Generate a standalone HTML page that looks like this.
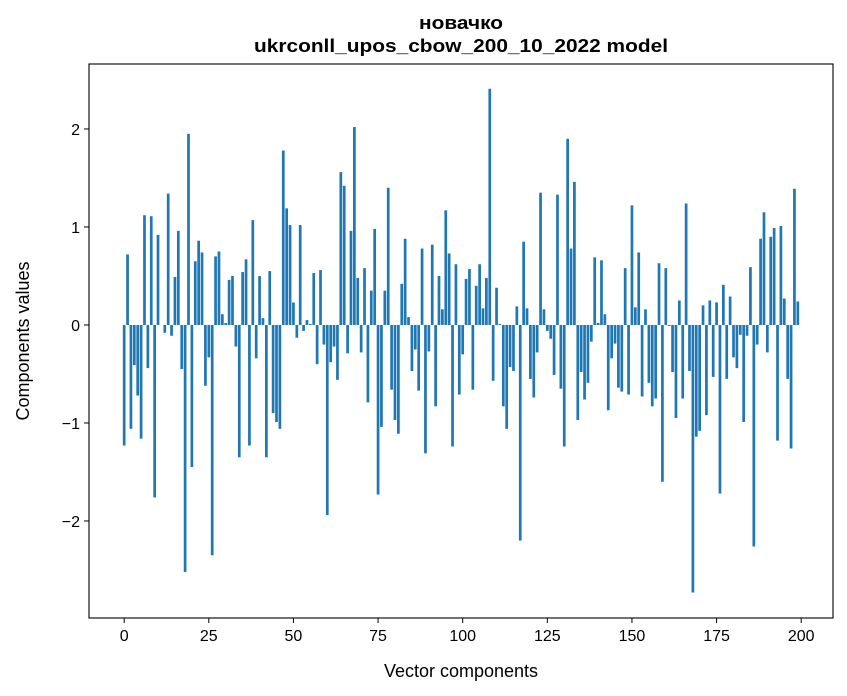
<!DOCTYPE html>
<html><head><meta charset="utf-8"><style>
html,body{margin:0;padding:0;background:#fff;}
svg{display:block;font-family:"Liberation Sans","DejaVu Sans",sans-serif;}
</style></head><body>
<svg id="chart" width="847" height="696" viewBox="0 0 847 696" xmlns="http://www.w3.org/2000/svg">
<rect x="0" y="0" width="847" height="696" fill="#fff"/>
<text x="461" y="29" text-anchor="middle" font-size="18" font-weight="bold" textLength="84" lengthAdjust="spacingAndGlyphs">новачко</text>
<text x="461" y="52" text-anchor="middle" font-size="18" font-weight="bold" textLength="414" lengthAdjust="spacingAndGlyphs">ukrconll_upos_cbow_200_10_2022 model</text>
<g id="bars"></g>
<g id="xticks"></g>
<g id="yticks"></g>
<rect x="89" y="64" width="744" height="554" fill="none" stroke="#000" stroke-width="1.1"/>
<text x="461" y="677" text-anchor="middle" font-size="18">Vector components</text>
<text transform="translate(29,341) rotate(-90)" text-anchor="middle" font-size="18">Components values</text>
</svg>
<script>
const values = [-1.23,0.72,-1.06,-0.41,-0.72,-1.16,1.12,-0.44,1.11,-1.76,
0.92,0.0,-0.08,1.34,-0.11,0.49,0.96,-0.45,-2.52,1.95,
-1.45,0.65,0.86,0.74,-0.62,-0.33,-2.35,0.70,0.75,0.11,
0.02,0.46,0.50,-0.22,-1.35,0.54,0.67,-1.23,1.07,-0.34,
0.50,0.07,-1.35,0.55,-0.90,-0.99,-1.06,1.78,1.19,1.02,
0.23,-0.13,1.02,-0.06,0.05,0.01,0.53,-0.40,0.56,-0.20,
-1.94,-0.38,-0.22,-0.56,1.56,1.42,-0.29,0.96,2.02,0.48,
-0.28,0.58,-0.79,0.35,0.98,-1.73,-1.04,0.35,1.40,-0.66,
-0.97,-1.11,0.42,0.88,0.08,-0.47,-0.25,-0.67,0.78,-1.31,
-0.27,0.82,-0.83,0.50,0.16,1.17,0.73,-1.24,0.62,-0.71,
-0.30,0.47,0.57,-0.66,0.40,0.62,0.17,0.48,2.41,-0.57,
0.38,0.01,-0.83,-1.06,-0.43,-0.47,0.19,-2.20,0.85,0.17,
-0.55,-0.74,-0.28,1.35,0.16,-0.06,-0.14,-0.51,1.33,-0.65,
-1.24,1.90,0.78,1.46,-0.97,-0.48,-0.76,-0.59,-0.17,0.69,
0.02,0.66,0.11,-0.87,-0.34,-0.19,-0.64,-0.68,0.58,-0.71,
1.22,0.18,0.74,-0.73,0.16,-0.59,-0.83,-0.75,0.63,-1.60,
0.58,-0.01,-0.48,-0.95,0.25,-0.75,1.24,-0.47,-2.73,-1.14,
-1.08,0.20,-0.92,0.25,-0.53,0.23,-1.72,0.41,-0.55,0.29,
-0.33,-0.44,-0.10,-0.99,-0.11,0.59,-2.26,-0.20,0.88,1.15,
-0.28,0.90,0.99,-1.18,1.01,0.27,-0.55,-1.26,1.39,0.24];
const xTickValues = [0,25,50,75,100,125,150,175,200];
const yTickValues = [-2,-1,0,1,2];
const yTickLabels = ["\u22122","\u22121","0","1","2"];

const NS = "http://www.w3.org/2000/svg";
const L=89,R=833,T=64,B=618;
const xMin=-10.39,xMax=209.39,yMin=-2.99,yMax=2.663;
function xs(v){return L+(v-xMin)/(xMax-xMin)*(R-L);}
function ys(v){return B-(v-yMin)/(yMax-yMin)*(B-T);}

const bars=document.getElementById('bars');
values.forEach((v,i)=>{
  const r=document.createElementNS(NS,'rect');
  const x0=xs(i-0.4),x1=xs(i+0.4);
  const y0=ys(Math.max(v,0)),y1=ys(Math.min(v,0));
  r.setAttribute('x',x0);r.setAttribute('width',x1-x0);
  r.setAttribute('y',y0);r.setAttribute('height',Math.max(y1-y0,0.01));
  r.setAttribute('fill','#1f77b4');
  
  
  bars.appendChild(r);
});
const xt=document.getElementById('xticks');
xTickValues.forEach(v=>{
  const x=xs(v);
  const l=document.createElementNS(NS,'line');
  l.setAttribute('x1',x);l.setAttribute('x2',x);l.setAttribute('y1',B);l.setAttribute('y2',B+5);
  l.setAttribute('stroke','#000');
  
  
  xt.appendChild(l);
  const t=document.createElementNS(NS,'text');
  t.setAttribute('x',x);t.setAttribute('y',B+23);t.setAttribute('text-anchor','middle');t.setAttribute('font-size','16');
  t.textContent=String(v);
  
  
  xt.appendChild(t);
});
const yt=document.getElementById('yticks');
yTickValues.forEach((v,i)=>{
  const y=ys(v);
  const l=document.createElementNS(NS,'line');
  l.setAttribute('x1',L-5);l.setAttribute('x2',L);l.setAttribute('y1',y);l.setAttribute('y2',y);
  l.setAttribute('stroke','#000');
  
  
  yt.appendChild(l);
  const t=document.createElementNS(NS,'text');
  t.setAttribute('x',L-9);t.setAttribute('y',y+6);t.setAttribute('text-anchor','end');t.setAttribute('font-size','16');
  t.textContent=yTickLabels[i];
  
  
  yt.appendChild(t);
});
</script>
</body></html>
